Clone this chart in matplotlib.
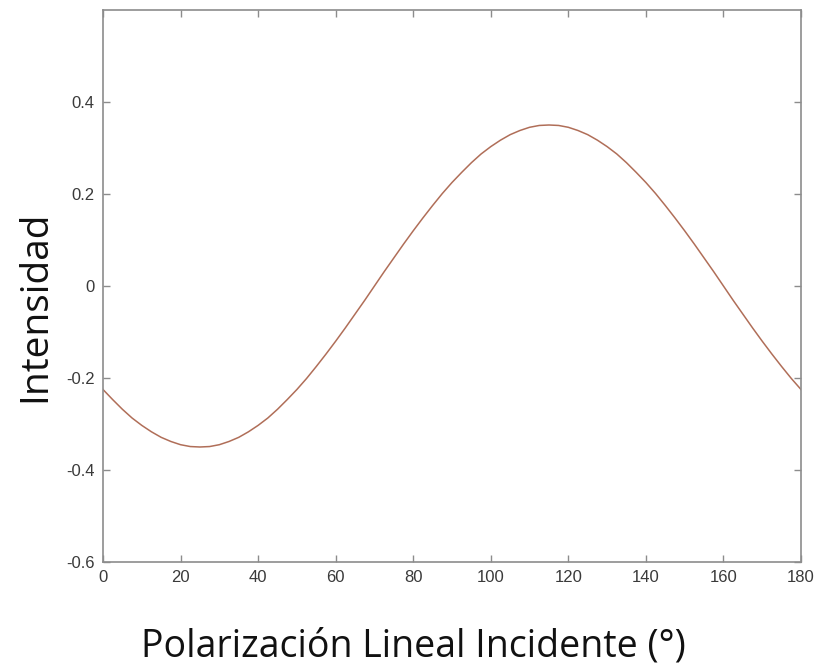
import matplotlib
matplotlib.use("Agg")
import matplotlib.pyplot as plt

# values, every 2.5 degrees
angle = [0, 2.5, 5, 7.5, 10, 12.5, 15, 17.5, 20, 22.5, 25, 27.5, 30, 32.5, 35, 37.5,
         40, 42.5, 45, 47.5, 50, 52.5, 55, 57.5, 60, 62.5, 65, 67.5, 70, 72.5, 75,
         77.5, 80, 82.5, 85, 87.5, 90, 92.5, 95, 97.5, 100, 102.5, 105, 107.5, 110,
         112.5, 115, 117.5, 120, 122.5, 125, 127.5, 130, 132.5, 135, 137.5, 140,
         142.5, 145, 147.5, 150, 152.5, 155, 157.5, 160, 162.5, 165, 167.5, 170,
         172.5, 175, 177.5, 180]
intensity = [-0.225, -0.247, -0.268, -0.287, -0.303, -0.317, -0.329, -0.338, -0.345,
             -0.349, -0.350, -0.349, -0.345, -0.338, -0.329, -0.317, -0.303, -0.287,
             -0.268, -0.247, -0.225, -0.201, -0.175, -0.148, -0.120, -0.091, -0.061,
             -0.031, 0.000, 0.031, 0.061, 0.091, 0.120, 0.148, 0.175, 0.201, 0.225,
             0.247, 0.268, 0.287, 0.303, 0.317, 0.329, 0.338, 0.345, 0.349, 0.350,
             0.349, 0.345, 0.338, 0.329, 0.317, 0.303, 0.287, 0.268, 0.247, 0.225,
             0.201, 0.175, 0.148, 0.120, 0.091, 0.061, 0.031, 0.000, -0.031, -0.061,
             -0.091, -0.120, -0.148, -0.175, -0.201, -0.225]

xticks = [0, 20, 40, 60, 80, 100, 120, 140, 160, 180]
yticks = [-0.6, -0.4, -0.2, 0, 0.2, 0.4]
ytick_labels = ["-0.6", "-0.4", "-0.2", "0", "0.2", "0.4"]

fig = plt.figure(figsize=(8.24, 6.71), dpi=100)
ax = fig.add_axes([103 / 824, 1 - 562 / 671, 698 / 824, 552 / 671])

ax.plot(angle, intensity, color="#b06e58", linewidth=1.1)

ax.set_xlim(0, 180)
ax.set_ylim(-0.6, 0.6)
ax.set_xticks(xticks)
ax.set_yticks(yticks)
ax.set_yticklabels(ytick_labels)

for s in ax.spines.values():
    s.set_color("#8c8c8c")
    s.set_linewidth(1.2)
ax.tick_params(direction="in", top=True, right=True, length=5, width=1,
               color="#8c8c8c", labelcolor="#3a3a3a", labelsize=12)
for lab in ax.get_xticklabels() + ax.get_yticklabels():
    lab.set_family("Liberation Sans")
ax.tick_params(axis="x", pad=6)
ax.tick_params(axis="y", pad=6)

fig.text(413 / 824, 1 - 646 / 671, "Polarización Lineal Incidente (°)",
         ha="center", va="center", fontsize=27, family="Open Sans", color="#111111")
fig.text(35 / 824, 1 - 306 / 671, "Intensidad", rotation=90,
         ha="center", va="center", fontsize=28, family="Open Sans", color="#111111")

fig.savefig("out.png", dpi=100)
